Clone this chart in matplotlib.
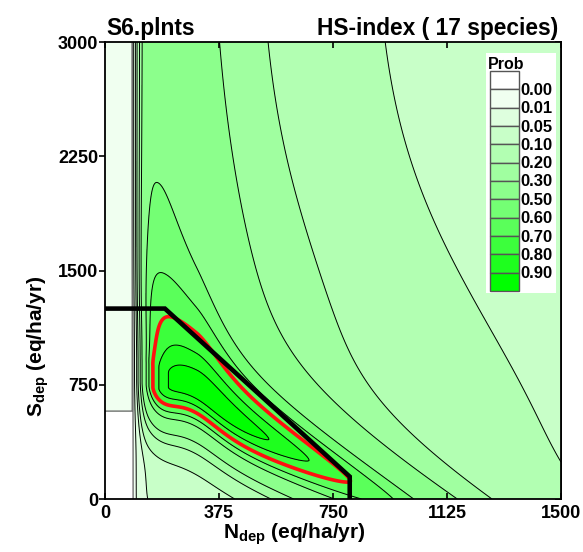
import numpy as np
import matplotlib
matplotlib.use("Agg")
import matplotlib.pyplot as plt
from matplotlib.patches import Rectangle

plt.rcParams['font.family'] = ['Liberation Sans', 'DejaVu Sans']
plt.rcParams['font.weight'] = 'bold'
plt.rcParams['mathtext.fontset'] = 'custom'
plt.rcParams['mathtext.rm'] = 'Liberation Sans:bold'
plt.rcParams['mathtext.bf'] = 'Liberation Sans:bold'
plt.rcParams['mathtext.it'] = 'Liberation Sans:bold'

# ---- chart data ----
prob_levels = [0.00, 0.01, 0.05, 0.10, 0.20, 0.30, 0.50, 0.60, 0.70, 0.80, 0.90]
level_labels = ['0.00', '0.01', '0.05', '0.10', '0.20', '0.30', '0.50', '0.60', '0.70', '0.80', '0.90']
band_colors = ['#FFFFFF', '#F0FFF0', '#DEFFDE', '#C8FFC8', '#B2FFB2', '#A0FFA0',
               '#8CFF8C', '#74FF74', '#5AFF5A', '#3CFF3C', '#1EFF1E', '#00FF00']
critical_level = 0.70
x_ticks = [0, 375, 750, 1125, 1500]
y_ticks = [0, 750, 1500, 2250, 3000]
crit_N = [0, 197, 805, 805]
crit_S = [1250, 1250, 147, 0]

# response-surface parameters (fitted to contour positions)
N0, nT = 88.0, 30.0            # N immobilisation threshold and ramp width
S_box = 580.0                  # zero-probability box below this S (N < N0)
X0, Xinf, Lx, m2 = 5.45, 4.40, 0.45, 0.3
Xk = 5.36
Ytop, Ylo_far, Ylo_amp, Ylo_w = 6.85, 6.68, 0.17, 0.6
Yr_far, Yr_amp, Yr_w = 6.73, 0.12, 0.45
s0L, kL = 1.4, 0.5
s0R, bumpR, bumpC, bumpW, pR = 1.27, 0.2, 0.85, 0.45, 2.3
Pinf, Lu, qu, eps_u = 0.38, 0.42, 1.0, 0.05
Bl, wl, ql = 0.03, 0.381, 1.4
B, Pm = 0.045, 1.0


def surface(NN, SS):
    n = NN - N0
    npos = np.clip(n, 1e-6, None)
    T = np.where(n > 0, 1 - np.exp(-(npos / nT) ** 2), 0.0)
    X = np.log(npos)
    Y = np.log(SS + np.clip(n, 0, None) + 1.0)
    right_part = Yr_far + Yr_amp * np.exp(-((X - Xk) / Yr_w) ** 2)
    Y0lo = np.where(X < Xk, Ylo_far + Ylo_amp * np.exp(-((X - Xk) / Ylo_w) ** 2), right_part)
    Y0up = np.where(X < Xk, Ytop, right_part)
    dYu = np.clip(Y - Y0up, 0, None)
    dYl = np.clip(Y0lo - Y, 0, None)
    Xc = X0 + m2 * dYl - (X0 - Xinf) * (1 - np.exp(-(dYu / Lx) ** 2))
    d = X - Xc
    sigL = s0L + kL * dYu
    sigR = s0R + bumpR * np.exp(-((dYu - bumpC) / bumpW) ** 2)
    across = np.where(d > 0, np.exp(-0.5 * (np.abs(d) / sigR) ** pR),
                      np.exp(-0.5 * (d / sigL) ** 2))
    du = np.sqrt(dYu ** 2 + eps_u ** 2) - eps_u
    Pc_up = Pinf + (1 - Pinf) * np.exp(-(du / Lu) ** qu)
    Pc_lo = Bl + (1 - Bl) * np.exp(-(dYl / wl) ** ql)
    Pc = np.where(dYu > 0, Pc_up, Pc_lo)
    P = Pm * T * (B + (1 - B) * Pc * across)
    return np.where(n > 0, P, np.where(SS >= S_box, 0.004, 0.0))


Ngrid = np.linspace(0, 1500, 751)
Sgrid = np.linspace(0, 3000, 751)
NN, SS = np.meshgrid(Ngrid, Sgrid)
P = surface(NN, SS)

# ---- figure ----
fig = plt.figure(figsize=(5.83, 5.52), dpi=100)
ax = fig.add_axes([105 / 583, 1 - 499 / 552, 456 / 583, 457 / 552])

fill_levels = [-1.0, 0.001] + prob_levels[1:] + [2.0]
ax.contourf(Ngrid, Sgrid, P, levels=fill_levels, colors=band_colors)
ax.contour(Ngrid, Sgrid, P, levels=[0.001], colors='#707070', linewidths=1.0)
black_levels = [v for v in prob_levels[1:] if v != critical_level]
ax.contour(Ngrid, Sgrid, P, levels=black_levels, colors='black', linewidths=0.7)
ax.contour(Ngrid, Sgrid, P, levels=[critical_level], colors='#FF1010', linewidths=2.6)
ax.plot(crit_N, crit_S, color='black', lw=3.3, solid_joinstyle='miter', solid_capstyle='butt')

ax.set_xlim(0, 1500)
ax.set_ylim(0, 3000)
ax.set_xticks(x_ticks)
ax.set_yticks(y_ticks)
ax.set_xticklabels([str(v) for v in x_ticks])
ax.set_yticklabels([str(v) for v in y_ticks])
for sp in ax.spines.values():
    sp.set_linewidth(1.3)
ax.tick_params(axis='x', direction='in', top=True, bottom=True, length=4, width=1.2,
               labelsize=13, pad=4)
ax.tick_params(axis='y', direction='out', left=True, right=False, length=4.5, width=1.2,
               labelsize=13, pad=0.5)
sec = ax.secondary_yaxis('right')
sec.set_yticks(y_ticks)
sec.tick_params(axis='y', direction='in', length=4, width=1.2, labelright=False)
sec.spines['right'].set_linewidth(1.3)

ax.text(0.004, 1.016, 'S6.plnts', transform=ax.transAxes, ha='left', va='baseline',
        fontsize=16.4, fontweight='bold')
ax.text(0.995, 1.016, 'HS-index ( 17 species)', transform=ax.transAxes, ha='right',
        va='baseline', fontsize=16.4, fontweight='bold')

fig.text(294.7 / 583, 1 - 539 / 552, r'$\mathbf{N_{dep}}$ (eq/ha/yr)', ha='center',
         va='baseline', fontsize=15, fontweight='bold')
fig.text(38 / 583, 1 - 276 / 552, r'$\mathbf{S_{dep}}$ (eq/ha/yr)', ha='right',
         va='center', rotation=90, fontsize=15, fontweight='bold', rotation_mode='anchor')

# legend panel
lax = fig.add_axes([486 / 583, 1 - 293 / 552, 70 / 583, 240 / 552])
lax.set_xlim(0, 70)
lax.set_ylim(240, 0)
lax.axis('off')
lax.add_patch(Rectangle((0, 0), 70, 240, facecolor='white', edgecolor='none'))
lax.text(2, 11, 'Prob', ha='left', va='center', fontsize=11.5, fontweight='bold')
bh = (238 - 18) / len(band_colors)
for i, c in enumerate(band_colors):
    lax.add_patch(Rectangle((4, 18 + i * bh), 29, bh, facecolor=c, edgecolor='#555555', lw=1.0))
for i, lab in enumerate(level_labels):
    lax.text(34, 18 + (i + 1) * bh + 1, lab, ha='left', va='center', fontsize=12,
             fontweight='bold')

fig.savefig('out.png', dpi=100)
